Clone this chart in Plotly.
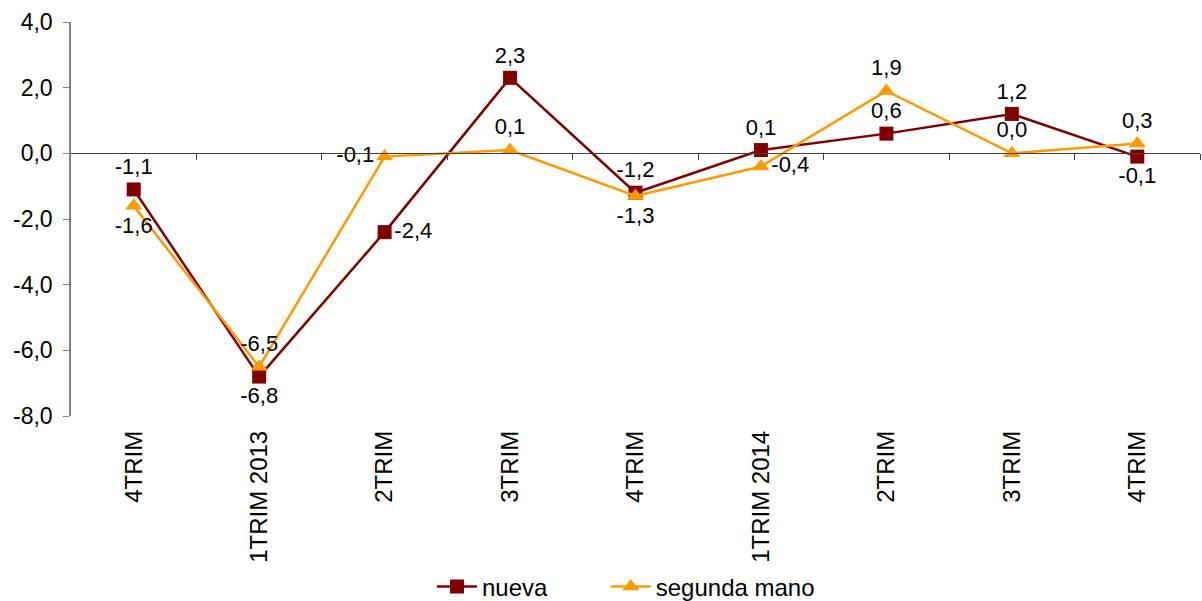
import plotly.graph_objects as go

categories = ["4TRIM", "1TRIM 2013", "2TRIM", "3TRIM", "4TRIM",
              "1TRIM 2014", "2TRIM", "3TRIM", "4TRIM"]
nueva = [-1.1, -6.8, -2.4, 2.3, -1.2, 0.1, 0.6, 1.2, -0.1]
segunda_mano = [-1.6, -6.5, -0.1, 0.1, -1.3, -0.4, 1.9, 0.0, 0.3]
nueva_pos = ["top center", "bottom center", "middle right", "top center", "top center",
             "top center", "top center", "top center", "bottom center"]
segunda_pos = ["bottom center", "top center", "middle left", "top center", "bottom center",
               "middle right", "top center", "top center", "top center"]
y_ticks = [4, 2, 0, -2, -4, -6, -8]

FONT = "Liberation Sans, Arial, sans-serif"
xs = list(range(len(categories)))
GAP = "\u00a0" * 8  # spacing between legend entries


def fmt(v):
    return f"{v:.1f}".replace(".", ",")


fig = go.Figure()
fig.add_trace(go.Scatter(
    x=xs, y=nueva, name="nueva" + GAP, mode="lines+markers+text",
    line=dict(color="#800000", width=2.5),
    marker=dict(symbol="square", size=14, color="#800000"),
    text=[fmt(v) for v in nueva], textposition=nueva_pos,
    textfont=dict(family=FONT, size=22, color="#000000"),
))
fig.add_trace(go.Scatter(
    x=xs, y=segunda_mano, name="segunda mano", mode="lines+markers+text",
    line=dict(color="#FF9900", width=2.5),
    marker=dict(symbol="triangle-up", size=15, color="#FF9900"),
    text=[fmt(v) for v in segunda_mano], textposition=segunda_pos,
    textfont=dict(family=FONT, size=22, color="#000000"),
))
# helper trace so the zero-crossing category axis is drawn
fig.add_trace(go.Scatter(x=[0], y=[None], xaxis="x2", yaxis="y",
                         showlegend=False, hoverinfo="skip"))

ymin, ymax = -8, 4
fig.update_layout(
    width=1202, height=601,
    margin=dict(l=71, r=2, t=22, b=185, autoexpand=False),
    paper_bgcolor="white", plot_bgcolor="white",
    font=dict(family=FONT, size=22, color="#000000"),
    showlegend=True,
    legend=dict(orientation="h", xref="container", x=432 / 1202, xanchor="left",
                yref="container", y=(601 - 587) / 601, yanchor="middle",
                font=dict(family=FONT, size=24), itemwidth=40),
    xaxis=dict(range=[-0.5, len(categories) - 0.5], tickmode="array",
               tickvals=xs, ticktext=categories, tickangle=-90,
               showline=False, showgrid=False, zeroline=False, ticks="",
               ticklabelstandoff=9, automargin=False,
               tickfont=dict(family=FONT, size=24, color="#000000")),
    xaxis2=dict(range=[-0.5, len(categories) - 0.5], overlaying="x", anchor="free",
                position=(0 - ymin) / (ymax - ymin), side="bottom",
                tickmode="array", tickvals=[i + 0.5 for i in xs],
                showticklabels=False, ticks="outside", ticklen=6, tickcolor="#404040",
                showline=True, linecolor="#404040", linewidth=1,
                showgrid=False, zeroline=False, automargin=False),
    yaxis=dict(range=[ymin, ymax], tickmode="array", tickvals=y_ticks,
               ticktext=[fmt(v) for v in y_ticks], automargin=False,
               showline=True, linecolor="#808080", linewidth=1.5,
               ticks="outside", ticklen=6, tickcolor="#808080",
               ticklabelstandoff=6,
               showgrid=False, zeroline=False,
               tickfont=dict(family=FONT, size=23, color="#000000")),
)

fig.write_html("out.html", config={"displayModeBar": False},
               post_script="document.body.style.margin='0';")
